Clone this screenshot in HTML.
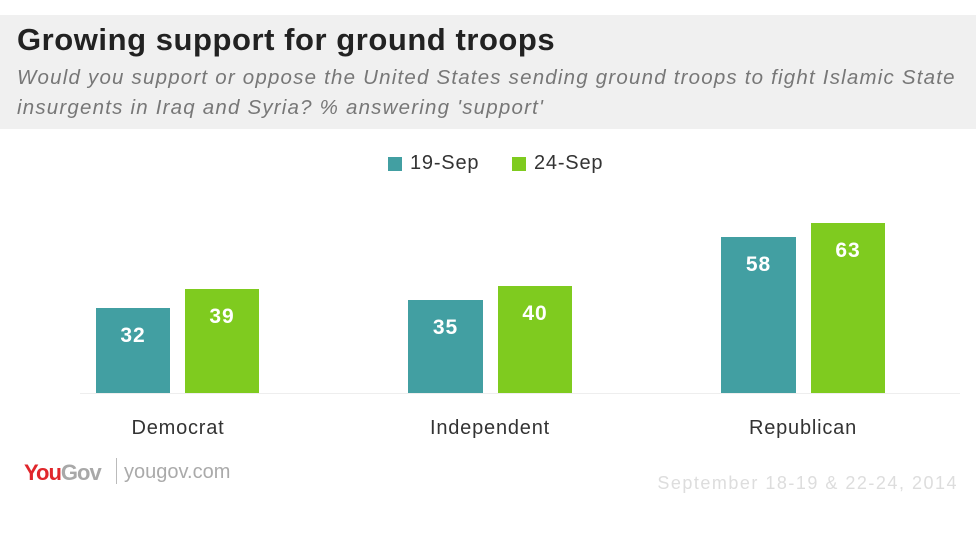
<!DOCTYPE html>
<html><head><style>
body{margin:0;width:976px;height:548px;background:#fff;position:relative;overflow:hidden;font-family:"Liberation Sans","DejaVu Sans",sans-serif}
.a{position:absolute}
.hdr{left:0;top:15px;width:976px;height:114px;background:#f0f0f0}
.t{left:17px;top:22px;font-size:31px;font-weight:bold;color:#222;letter-spacing:0.55px}
.s{left:17px;top:63px;font-size:20.5px;font-style:italic;color:#777;line-height:30px;width:960px;white-space:nowrap;letter-spacing:1.2px}
.b{position:absolute;color:#fff;font-weight:bold;font-size:21px;text-align:center;padding-top:16px;box-sizing:border-box;letter-spacing:1px}
.tl{background:#429fa2}.gr{background:#7fcb1f}
.c{font-size:20px;color:#333;text-align:center;width:200px;top:417px;letter-spacing:0.8px}
</style></head><body>
<div class="a hdr"></div>
<div class="a t">Growing support for ground troops</div>
<div class="a s">Would you support or oppose the United States sending ground troops to fight Islamic State<br>insurgents in Iraq and Syria? % answering 'support'</div>
<div class="a tl" style="left:388px;top:157px;width:14px;height:14px"></div>
<div class="a" style="left:410px;top:152px;font-size:20px;color:#333;letter-spacing:0.8px">19-Sep</div>
<div class="a gr" style="left:512px;top:157px;width:14px;height:14px"></div>
<div class="a" style="left:534px;top:152px;font-size:20px;color:#333;letter-spacing:0.8px">24-Sep</div>
<div class="a" style="left:80px;top:393px;width:880px;height:1px;background:#eee"></div>
<div class="b tl" style="left:96px;top:308px;width:74px;height:85px">32</div>
<div class="b gr" style="left:185px;top:289px;width:74px;height:104px">39</div>
<div class="b tl" style="left:408px;top:300px;width:75px;height:93px">35</div>
<div class="b gr" style="left:498px;top:286px;width:74px;height:107px">40</div>
<div class="b tl" style="left:721px;top:237px;width:75px;height:156px">58</div>
<div class="b gr" style="left:811px;top:223px;width:74px;height:170px">63</div>
<div class="a c" style="left:78px">Democrat</div>
<div class="a c" style="left:390px">Independent</div>
<div class="a c" style="left:703px">Republican</div>
<div class="a" style="left:24px;top:460px;font-size:22px;font-weight:bold;letter-spacing:-1px"><span style="color:#e0262b">You</span><span style="color:#a8a8a8">Gov</span></div>
<div class="a" style="left:116px;top:458px;width:1px;height:26px;background:#bbb"></div>
<div class="a" style="left:124px;top:461px;font-size:20px;color:#aaa">yougov.com</div>
<div class="a" style="right:18px;top:473px;font-size:18px;color:#ddd;letter-spacing:1.5px">September 18-19 &amp; 22-24, 2014</div>
</body></html>
